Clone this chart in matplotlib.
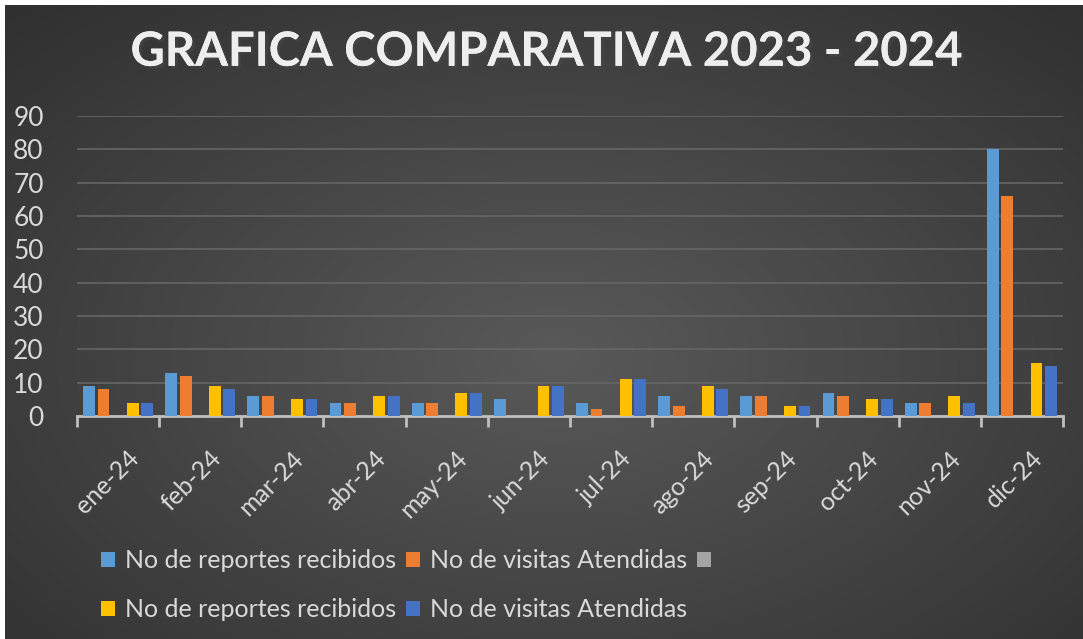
import numpy as np
import matplotlib
matplotlib.use("Agg")
import matplotlib.pyplot as plt
import matplotlib.patheffects as pe
import matplotlib.transforms as mtrans
from matplotlib.patches import Patch

# data
months = ["ene-24", "feb-24", "mar-24", "abr-24", "may-24", "jun-24",
          "jul-24", "ago-24", "sep-24", "oct-24", "nov-24", "dic-24"]
reportes_a = [9, 13, 6, 4, 4, 5, 4, 6, 6, 7, 4, 80]
visitas_a = [8, 12, 6, 4, 4, 0, 2, 3, 6, 6, 4, 66]
vacia = [0, 0, 0, 0, 0, 0, 0, 0, 0, 0, 0, 0]
reportes_b = [4, 9, 5, 6, 7, 9, 11, 9, 3, 5, 6, 16]
visitas_b = [4, 8, 5, 6, 7, 9, 11, 8, 3, 5, 4, 15]

series = [reportes_a, visitas_a, vacia, reportes_b, visitas_b]
labels = ["No de reportes recibidos", "No de visitas Atendidas", "",
          "No de reportes recibidos", "No de visitas Atendidas"]
colors = ["#5B9BD5", "#ED7D31", "#A5A5A5", "#FFC000", "#4472C4"]

plt.rcParams['font.family'] = ['Lato', 'DejaVu Sans']
txt_col = "#d9d9d9"

W, H = 1083, 639
fig = plt.figure(figsize=(W / 100, H / 100), dpi=100, facecolor="white")

# dark radial background (white strip only on left and top)
bg = fig.add_axes([5 / W, -0.01, 1.02 - 5 / W, 1.01 - 5 / H])
yy, xx = np.mgrid[0:1:300j, 0:1:500j]
r = np.sqrt(((xx - 0.5) / 0.75) ** 2 + ((yy - 0.55) / 0.8) ** 2)
r = np.clip(r, 0, 1)
shade = 0.35 - (0.35 - 0.18) * r
bg.imshow(np.dstack([shade] * 3), extent=[0, 1, 0, 1], aspect="auto",
          interpolation="bilinear")
bg.axis("off")

ax = fig.add_axes([77 / W, 1 - 416 / H, (1063 - 77) / W, (416 - 116) / H])
ax.set_facecolor("none")

x = np.arange(len(months))
offsets = [-0.354, -0.177, 0.0, 0.177, 0.354]
handles = []
for vals, off, c, lab in zip(series, offsets, colors, labels):
    ax.bar(x + off, vals, width=0.143, color=c, zorder=3)
    handles.append(Patch(facecolor=c, edgecolor="none", label=lab))

ax.set_xlim(-0.5, len(months) - 0.5)
ax.set_ylim(0, 90)
ax.set_yticks(np.arange(0, 91, 10))
ax.yaxis.grid(True, color="#666666", linewidth=1.2, zorder=0)
ax.tick_params(axis="y", length=0, labelsize=19, labelcolor=txt_col, pad=24)

# ticks at category boundaries, labels at centers
ax.set_xticks(np.arange(-0.5, len(months)), minor=False)
ax.set_xticklabels([])
ax.set_xticks(x, minor=True)
ax.set_xticklabels(months, minor=True, rotation=45, ha="right",
                   rotation_mode="anchor")
ax.tick_params(axis="x", which="major", length=8, width=2, color="#bfbfbf",
               direction="out")
ax.tick_params(axis="x", which="minor", length=0, labelsize=18,
               labelcolor=txt_col, pad=22)
shift = mtrans.ScaledTranslation(9 / 100, 0, fig.dpi_scale_trans)
for lab in ax.get_xticklabels(minor=True):
    lab.set_transform(lab.get_transform() + shift)

for s in ["top", "right", "left"]:
    ax.spines[s].set_visible(False)
ax.spines["bottom"].set_color("#bfbfbf")
ax.spines["bottom"].set_linewidth(2)

fig.text(0.505, 0.919, "GRAFICA COMPARATIVA 2023 - 2024", ha="center",
         va="center", fontsize=34, fontweight="bold", color="#eeeeee",
         path_effects=[pe.withSimplePatchShadow(offset=(2, -2), alpha=0.6),
                       pe.Normal()])

# legend: order so that rows read as in the original
order = [0, 3, 1, 4, 2]
leg = fig.legend([handles[i] for i in order], [labels[i] for i in order],
                 ncol=3, loc="upper left",
                 bbox_to_anchor=(101 / W, 1 - 549 / H),
                 frameon=False, fontsize=18, handlelength=0.55,
                 handleheight=0.55, handletextpad=0.4, columnspacing=0.4,
                 labelspacing=1.05, borderpad=0, borderaxespad=0)
for t in leg.get_texts():
    t.set_color(txt_col)

fig.savefig("out.png", dpi=100, facecolor=fig.get_facecolor())
